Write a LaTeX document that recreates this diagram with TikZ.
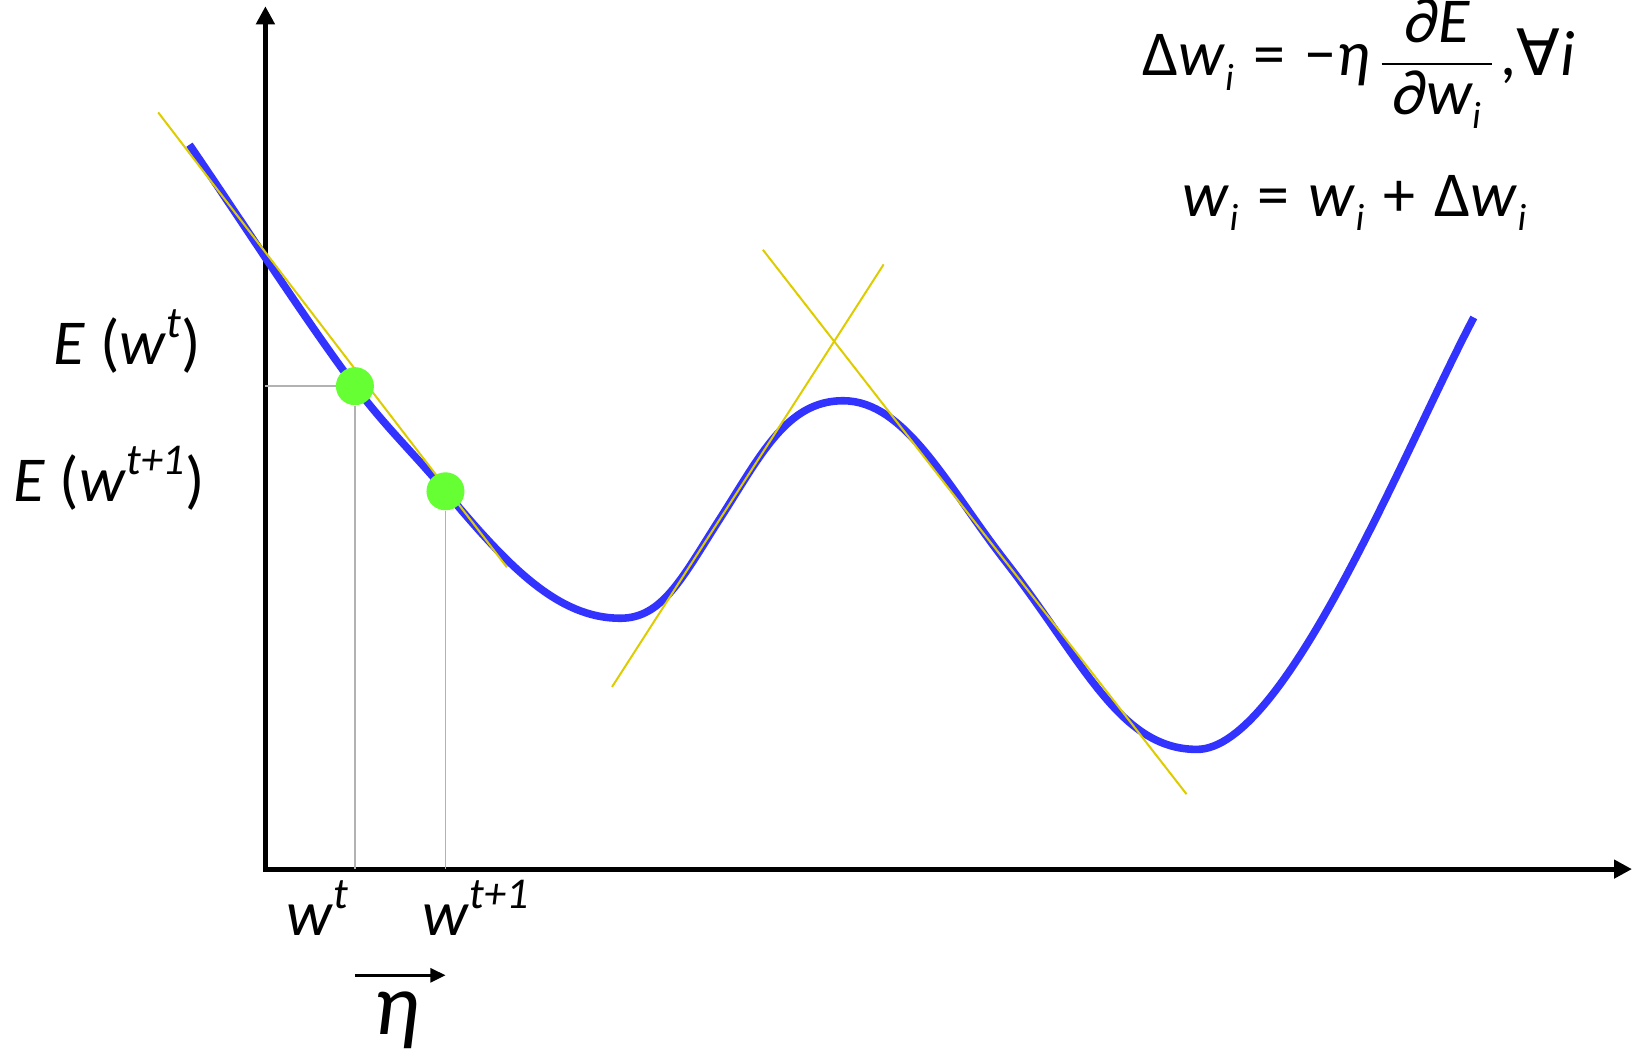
\documentclass[tikz,border=0pt]{standalone}
\usepackage{amsmath}
\usepackage{fontspec}
\setmainfont{Carlito}
\newfontfamily\symfont{DejaVu Sans}
\usetikzlibrary{arrows.meta,positioning}
\definecolor{curveblue}{RGB}{51,51,255}
\definecolor{dotgreen}{RGB}{102,255,51}
\definecolor{tanyellow}{RGB}{221,204,0}
\newcommand{\lo}[1]{\raisebox{-0.22em}{\fontsize{19}{19}\selectfont\itshape #1}}
\newcommand{\hi}[1]{\raisebox{0.42em}{\fontsize{22}{22}\selectfont\itshape #1}}
\newcommand{\eq}[1]{\hspace{0.3em}#1\hspace{0.3em}}

\begin{document}
\begin{tikzpicture}[
  x=0.5204pt, y=-0.5204pt,
  axis/.style={line width=2.4pt, {Triangle[length=9pt,width=9pt]}-{Triangle[length=9pt,width=9pt]}},
  tang/.style={tanyellow, line width=1pt},
  guide/.style={black!30, line width=0.9pt},
  dot/.style={circle, fill=dotgreen, inner sep=0pt, minimum size=19pt},
  lbl/.style={font=\fontsize{32}{34}\selectfont, inner sep=0pt},
  arr/.style={line width=1.3pt, -{Triangle[length=7.5pt,width=7pt]}}
]
\useasboundingbox (0,0) rectangle (1568,1007);

\coordinate (o) at (255,835);
\coordinate (ytop) at (255,6);
\coordinate (xend) at (1568,835);
\draw[axis] (ytop) |- (xend);

% error curve
\draw[curveblue, line width=3.8pt] (182,139)
  .. controls (232,212) and (291,304) .. (341,371)
  .. controls (371,411) and (398,436) .. (428,472)
  .. controls (488,544) and (536,594) .. (596,594)
  .. controls (636,594) and (655,556) .. (690,501)
  .. controls (730,439) and (755,385) .. (810,385)
  .. controls (870,385) and (910,467) .. (965,538)
  .. controls (1040,634) and (1075,720) .. (1150,720)
  .. controls (1235,720) and (1350,430) .. (1416,305);

% tangents
\draw[tang] (152,108) -- (487,545);
\draw[tang] (588,660) -- (849,254);
\draw[tang] (733,240) -- (1140,763);

\coordinate (e1) at (255,371);
\coordinate (w1) at (341,835);
\coordinate (w2) at (428,835);
\node[dot] (pt1) at (341,371) {};
\node[dot] (pt2) at (428,472) {};
\draw[guide] (e1) -- (pt1.west);
\draw[guide] (pt1.south) -- (w1);
\draw[guide] (pt2.south) -- (w2);

\node[lbl, anchor=base east] (ewt) at (193,350) {\textit{E} (\textit{w}\hi{t})};
\node[lbl, anchor=base east] (ewt1) at (197,482) {\textit{E} (\textit{w}\hi{t+1})};
\node[lbl, anchor=base west] (wt) at (275,899) {\textit{w}\hi{t}};
\node[lbl, anchor=base west] (wt1) at (406,899) {\textit{w}\hi{t+1}};

\coordinate (a1) at (341,937);
\coordinate (a2) at (428,937);
\draw[arr] (a1) -- (a2);
\node[lbl, font=\fontsize{44}{44}\selectfont\itshape, anchor=base] (eta) at (381,994) {η};

\node[lbl, anchor=base west] (upd) at (1097,73)
  {Δ\textit{w}\lo{i}\eq{=}−\textit{η}\hspace{0.15em}$\dfrac{\text{\itshape\,∂E\,}}{\text{\itshape\,∂w\lo{i}\,}}$\hspace{0.1em},{\symfont ∀}\textit{i}};
\node[lbl, anchor=base west] (rule) at (1136,208)
  {\textit{w}\lo{i}\eq{=}\textit{w}\lo{i}\eq{+}Δ\textit{w}\lo{i}};
\end{tikzpicture}
\end{document}
